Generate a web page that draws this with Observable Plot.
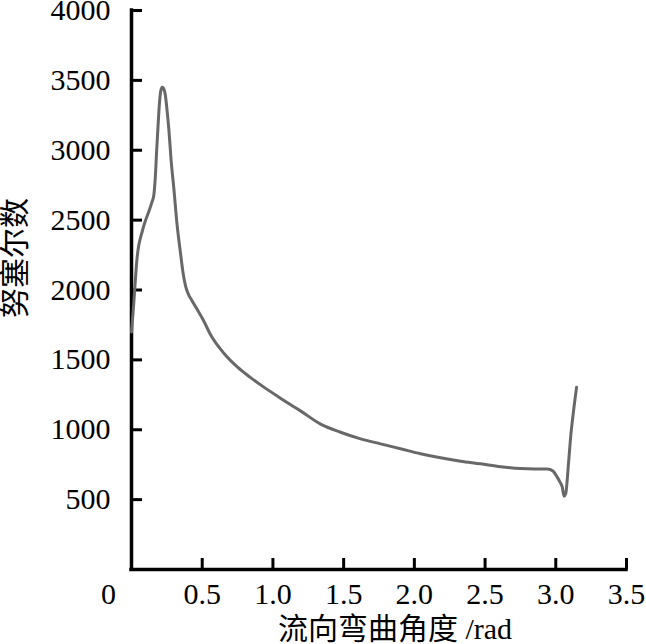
<!DOCTYPE html>
<html>
<head>
<meta charset="utf-8">
<script src="https://cdn.jsdelivr.net/npm/d3@7"></script>
<script src="https://cdn.jsdelivr.net/npm/@observablehq/plot@0.6"></script>
<style>
  html, body { margin: 0; padding: 0; background: white; }
</style>
</head>
<body>
<div id="chart"></div>
<script>
const angle = [0, 0.012, 0.040, 0.076, 0.10, 0.122, 0.145, 0.158, 0.168, 0.178, 0.188, 0.198, 0.208, 0.218, 0.228, 0.240, 0.252, 0.264, 0.28, 0.30, 0.323, 0.347, 0.365, 0.382, 0.40, 0.43, 0.465, 0.51, 0.559, 0.653, 0.748, 0.84, 0.936, 1.04, 1.148, 1.195, 1.337, 1.478, 1.62, 1.761, 1.902, 2.044, 2.185, 2.327, 2.468, 2.61, 2.751, 2.85, 2.94, 2.98, 3.01, 3.03, 3.046, 3.058, 3.07, 3.09, 3.105, 3.125, 3.147];
const nusselt = [1700, 1850, 2235, 2420, 2500, 2560, 2630, 2680, 2800, 3000, 3180, 3340, 3430, 3450, 3440, 3390, 3280, 3150, 2930, 2720, 2460, 2260, 2120, 2030, 1975, 1920, 1860, 1780, 1680, 1548, 1450, 1375, 1305, 1235, 1165, 1135, 1040, 982, 935, 899, 864, 828, 799, 775, 756, 735, 722, 720, 720, 705, 661, 625, 589, 525, 542, 760, 947, 1130, 1304];
const xTicks = [0.5, 1.0, 1.5, 2.0, 2.5, 3.0, 3.5];
const yTicks = [500, 1000, 1500, 2000, 2500, 3000, 3500, 4000];
const xOriginLabel = ["0"];
const xTitle = "流向弯曲角度 /rad";
const yTitle = "努塞尔数";

const data = angle.map((a, i) => ({angle: a, nu: nusselt[i]}));

const FONT = "'Liberation Serif', 'DejaVu Serif', 'Noto Sans CJK SC', serif";
const W = 646, H = 644, mL = 131, mR = 20, mT = 10, mB = 75;
const frameW = W - mL - mR, frameH = H - mT - mB;

const chart = Plot.plot({
  width: W, height: H,
  marginLeft: mL, marginRight: mR, marginTop: mT, marginBottom: mB,
  x: {domain: [0, 3.5]},
  y: {domain: [0, 4000]},
  style: {fontFamily: FONT, fontSize: "30px", background: "white", color: "black", overflow: "visible"},
  marks: [
    Plot.axisY(yTicks, {tickSize: 0, tickPadding: 21, fontSize: 30, fontFamily: FONT, tickFormat: d => String(d), label: null}),
    Plot.axisX(xTicks, {tickSize: 0, tickPadding: 13, fontSize: 30, fontFamily: FONT, tickFormat: d => d.toFixed(1), label: null}),
    Plot.text(xOriginLabel, {x: () => 0, text: d => d, frameAnchor: "bottom", lineAnchor: "top", dy: 13, dx: -23, fontSize: 30, fontFamily: FONT}),
    Plot.tickY(yTicks, {y: d => d, insetRight: frameW - 11, stroke: "black", strokeWidth: 3}),
    Plot.tickX(xTicks, {x: d => d, insetTop: frameH - 11, stroke: "black", strokeWidth: 3}),
    Plot.ruleX([0], {stroke: "black", strokeWidth: 3.5, strokeLinecap: "square"}),
    Plot.ruleY([0], {stroke: "black", strokeWidth: 3.5, strokeLinecap: "square"}),
    Plot.line(data, {x: "angle", y: "nu", stroke: "#686868", strokeWidth: 3, curve: "monotone-x"}),
    Plot.text([xTitle], {text: d => d, frameAnchor: "bottom", lineAnchor: "top", textAnchor: "middle", dy: 48, dx: 16, fontSize: 30, fontFamily: FONT}),
    Plot.text([yTitle], {text: d => d, frameAnchor: "left", textAnchor: "middle", rotate: -90, dx: -116, dy: -32, fontSize: 30, fontFamily: FONT})
  ]
});
document.getElementById("chart").appendChild(chart);
</script>
</body>
</html>
